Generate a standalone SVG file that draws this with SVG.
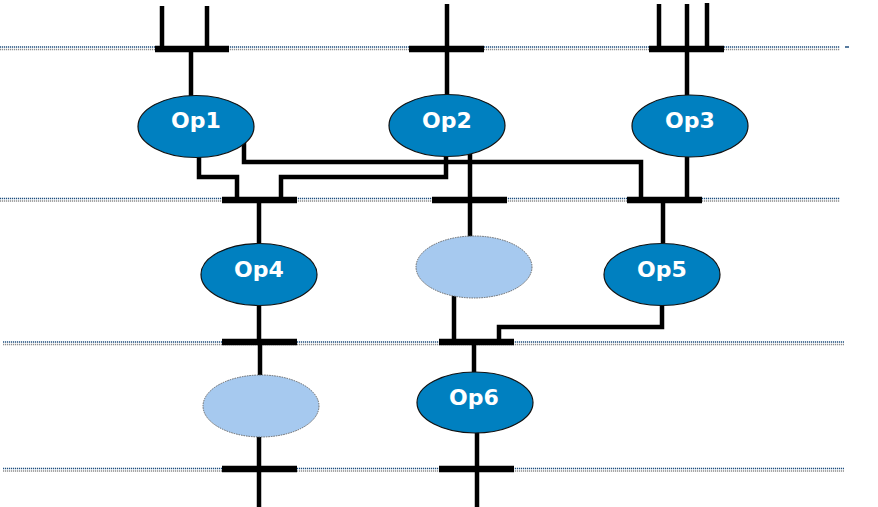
<svg xmlns="http://www.w3.org/2000/svg" width="878" height="507" viewBox="0 0 878 507">
<style>
.blue{stroke:#1f4f7f;stroke-width:1.5;stroke-dasharray:1.2 0.8;fill:none}
.gray{stroke:#8c8c8c;stroke-width:1.5;stroke-dasharray:1.2 0.8;fill:none}
.bar{stroke:#000;stroke-width:6.5;fill:none}
.wire{stroke:#000;stroke-width:4.5;fill:none;stroke-linejoin:miter}
.op{fill:#0080c0;stroke:#111;stroke-width:1.2}
.ghost{fill:#a6c9ef;stroke:#666;stroke-width:1;stroke-dasharray:1.5 1}
.lbl{font-family:"DejaVu Sans","Verdana",sans-serif;font-weight:bold;font-size:22px;fill:#fff;text-anchor:middle}
</style>
<rect width="878" height="507" fill="#fff"/>
<g id="guides">
<line class="blue" x1="0" y1="47" x2="840" y2="47"/>
<line class="gray" x1="0" y1="49.5" x2="840" y2="49.5"/>
<line x1="845" y1="47" x2="849" y2="47" stroke="#1f4f7f" stroke-width="1.5"/>
<line class="blue" x1="0" y1="198.5" x2="840" y2="198.5"/>
<line class="gray" x1="0" y1="201" x2="840" y2="201"/>
<line class="blue" x1="3" y1="342" x2="844" y2="342"/>
<line class="gray" x1="3" y1="344.5" x2="844" y2="344.5"/>
<line class="blue" x1="3" y1="468.5" x2="844" y2="468.5"/>
<line class="gray" x1="3" y1="471" x2="844" y2="471"/>
</g>
<g id="connectors">
<line class="wire" x1="162" y1="6" x2="162" y2="49"/>
<line class="wire" x1="207" y1="6" x2="207" y2="49"/>
<line class="wire" x1="191" y1="49" x2="191" y2="96"/>
<line class="wire" x1="447" y1="4" x2="447" y2="95"/>
<line class="wire" x1="659" y1="4" x2="659" y2="49"/>
<line class="wire" x1="687" y1="4" x2="687" y2="95"/>
<line class="wire" x1="707" y1="3" x2="707" y2="49"/>
<path class="wire" d="M199,155 V177 H237 V200"/>
<path class="wire" d="M244,140 V162 H641 V200"/>
<path class="wire" d="M446,156 V177 H281 V200"/>
<line class="wire" x1="470" y1="154" x2="470" y2="237"/>
<line class="wire" x1="687" y1="157" x2="687" y2="200"/>
<line class="wire" x1="259" y1="200" x2="259" y2="243"/>
<line class="wire" x1="663" y1="200" x2="663" y2="243"/>
<line class="wire" x1="259" y1="305" x2="259" y2="343"/>
<line class="wire" x1="454" y1="296" x2="454" y2="343"/>
<path class="wire" d="M662,305 V327 H499 V343"/>
<line class="wire" x1="260" y1="343" x2="260" y2="375"/>
<line class="wire" x1="474" y1="343" x2="474" y2="372"/>
<line class="wire" x1="259" y1="435" x2="259" y2="507"/>
<line class="wire" x1="477" y1="432" x2="477" y2="507"/>
<line class="bar" x1="155" y1="49" x2="229" y2="49"/>
<line class="bar" x1="409" y1="49" x2="484" y2="49"/>
<line class="bar" x1="649" y1="49" x2="724" y2="49"/>
<line class="bar" x1="222" y1="200" x2="297" y2="200"/>
<line class="bar" x1="432" y1="200" x2="507" y2="200"/>
<line class="bar" x1="627" y1="200" x2="702" y2="200"/>
<line class="bar" x1="222" y1="342" x2="297" y2="342"/>
<line class="bar" x1="439" y1="342" x2="514" y2="342"/>
<line class="bar" x1="222" y1="469" x2="297" y2="469"/>
<line class="bar" x1="439" y1="469" x2="514" y2="469"/>
</g>
<g id="op1"><ellipse class="op" cx="196" cy="126.5" rx="58" ry="31"/><text class="lbl" x="196" y="128">Op1</text></g>
<g id="op2"><ellipse class="op" cx="447" cy="125.5" rx="58" ry="31"/><text class="lbl" x="447" y="128">Op2</text></g>
<g id="op3"><ellipse class="op" cx="690" cy="126" rx="58" ry="31"/><text class="lbl" x="690" y="128">Op3</text></g>
<g id="op4"><ellipse class="op" cx="259" cy="274.5" rx="58" ry="31"/><text class="lbl" x="259" y="277">Op4</text></g>
<g id="blank1"><ellipse class="ghost" cx="474" cy="267" rx="58" ry="31"/></g>
<g id="op5"><ellipse class="op" cx="662" cy="274.5" rx="58" ry="31"/><text class="lbl" x="662" y="277">Op5</text></g>
<g id="blank2"><ellipse class="ghost" cx="261" cy="406" rx="58" ry="31"/></g>
<g id="op6"><ellipse class="op" cx="475" cy="402.5" rx="58" ry="30.5"/><text class="lbl" x="474" y="405">Op6</text></g>
</svg>
